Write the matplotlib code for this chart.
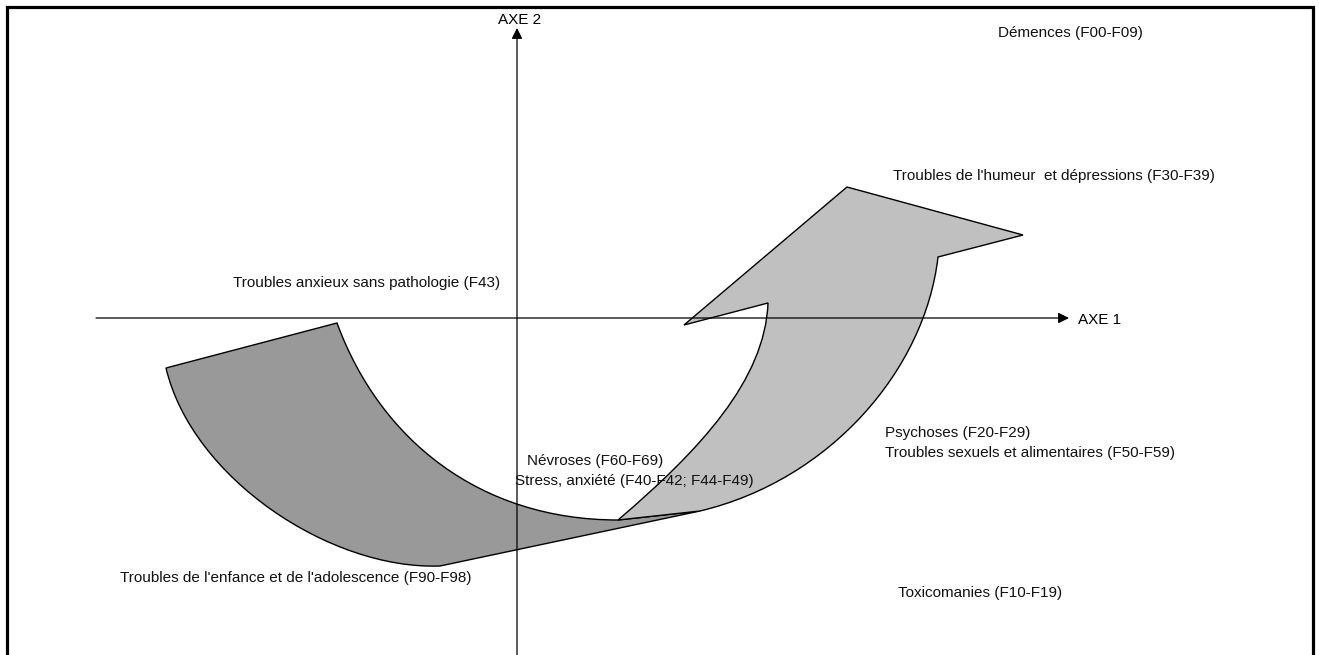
import matplotlib
matplotlib.use("Agg")
from matplotlib import pyplot as plt
from matplotlib.path import Path
from matplotlib.patches import PathPatch

plt.rcParams['font.family'] = ['Liberation Sans', 'DejaVu Sans']

# outline of the dark arrow (enfance -> stress), pixel coords
dark_pts = [(166, 368), (192, 478), (330, 570), (440, 566),
            (700, 511), (618, 520),
            (480, 520), (380, 440), (337, 323), (166, 368)]
dark_codes = [Path.MOVETO, Path.CURVE4, Path.CURVE4, Path.CURVE4,
              Path.LINETO, Path.LINETO,
              Path.CURVE4, Path.CURVE4, Path.CURVE4, Path.CLOSEPOLY]

# outline of the light arrow (stress -> humeur)
light_pts = [(618, 520), (700, 450), (765, 380), (768, 303),
             (684, 325), (847, 187), (1023, 235), (938, 257),
             (925, 370), (830, 480), (700, 511), (618, 520)]
light_codes = [Path.MOVETO, Path.CURVE4, Path.CURVE4, Path.CURVE4,
               Path.LINETO, Path.LINETO, Path.LINETO, Path.LINETO,
               Path.CURVE4, Path.CURVE4, Path.CURVE4, Path.CLOSEPOLY]

labels = ["Démences (F00-F09)",
          "Troubles de l'humeur  et dépressions (F30-F39)",
          "Troubles anxieux sans pathologie (F43)",
          "Psychoses (F20-F29)",
          "Troubles sexuels et alimentaires (F50-F59)",
          "Névroses (F60-F69)",
          "Stress, anxiété (F40-F42; F44-F49)",
          "Troubles de l'enfance et de l'adolescence (F90-F98)",
          "Toxicomanies (F10-F19)"]
label_x = [998, 893, 233, 885, 885, 527, 515, 120, 898]
label_y = [33, 176, 283, 433, 453, 461, 481, 578, 593]

fig = plt.figure(figsize=(13.19, 6.55), dpi=100)
ax = fig.add_axes([0, 0, 1, 1])
ax.set_xlim(0, 1319)
ax.set_ylim(655, 0)
ax.axis('off')

ax.add_patch(PathPatch(Path(dark_pts, dark_codes), facecolor='#999999',
                       edgecolor='black', lw=1, zorder=2))
ax.add_patch(PathPatch(Path(light_pts, light_codes), facecolor='#c0c0c0',
                       edgecolor='black', lw=1, zorder=2))

# axes with arrow heads
ax.annotate('', xy=(1069, 318), xytext=(96, 318),
            arrowprops=dict(arrowstyle='-|>', color='black', lw=0.9,
                            mutation_scale=16, shrinkA=0, shrinkB=0), zorder=3)
ax.annotate('', xy=(517, 28), xytext=(517, 655),
            arrowprops=dict(arrowstyle='-|>', color='black', lw=0.9,
                            mutation_scale=16, shrinkA=0, shrinkB=0), zorder=3)
ax.text(498, 20, "AXE 2", fontsize=11, va='center', ha='left')
ax.text(1078, 320, "AXE 1", fontsize=11, va='center', ha='left')

for t, x, y in zip(labels, label_x, label_y):
    ax.text(x, y, t, fontsize=11, va='center', ha='left', color='#111111', zorder=4)

# frame (open at the bottom)
ax.plot([7, 7, 1313, 1313], [655, 7, 7, 655], color='black', lw=2.3,
        solid_joinstyle='miter')

fig.savefig('out.png', dpi=100)
